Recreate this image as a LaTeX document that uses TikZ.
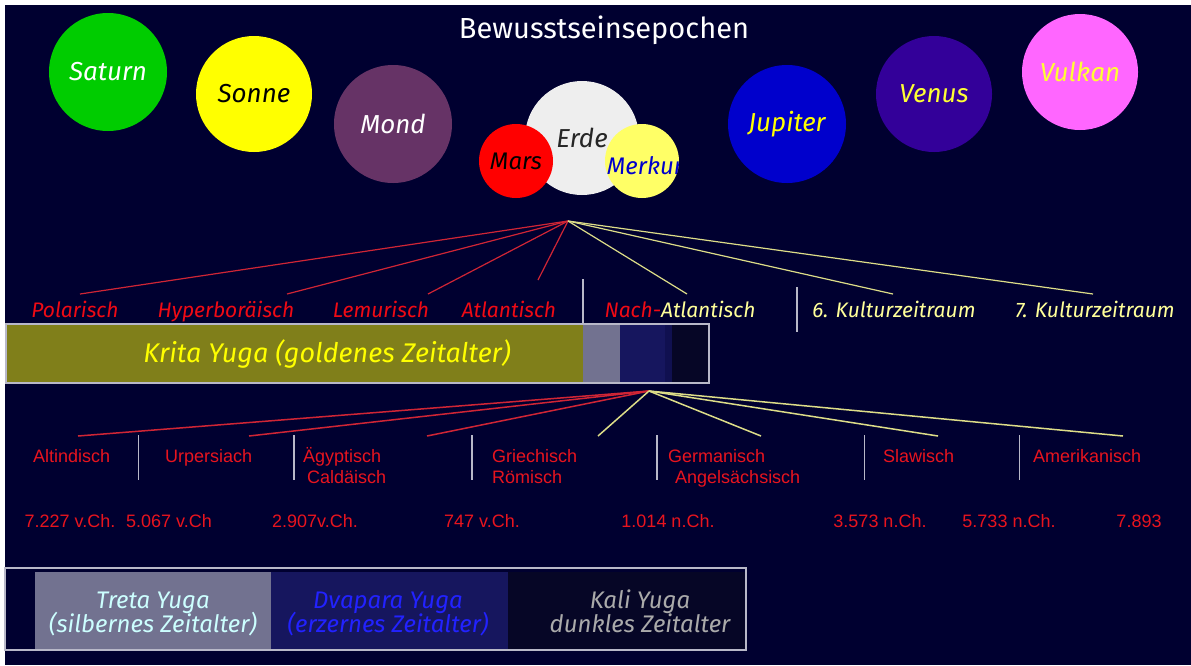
\documentclass[tikz,border=0pt]{standalone}
\usepackage{fontspec}
\setmainfont{Liberation Sans}
\newfontfamily\techfont{Fira Sans}
\usetikzlibrary{positioning,calc}
\newcommand{\tightlines}{\lineskiplimit=-100pt\relax}
\definecolor{NightBg}{HTML}{000030}
\definecolor{SaturnGreen}{HTML}{00CC00}
\definecolor{SonneYellow}{HTML}{FFFF00}
\definecolor{MondPurple}{HTML}{663366}
\definecolor{ErdeGrey}{HTML}{EEEEEE}
\definecolor{MarsRed}{HTML}{FF0000}
\definecolor{MerkurYellow}{HTML}{FFFF66}
\definecolor{JupiterBlue}{HTML}{0000CC}
\definecolor{VenusViolet}{HTML}{330099}
\definecolor{VulkanPink}{HTML}{FF66FF}
\definecolor{LabelYellow}{HTML}{FFFF33}
\definecolor{EpochRed}{HTML}{F00A14}
\definecolor{CultRed}{HTML}{E8141E}
\definecolor{PaleYellow}{HTML}{FFFF99}
\definecolor{FanRed}{HTML}{D02535}
\definecolor{FanYellow}{HTML}{DDDD88}
\definecolor{DividerGrey}{HTML}{B8B8C8}
\definecolor{KritaOlive}{HTML}{807F1A}
\definecolor{TretaGrey}{HTML}{727290}
\definecolor{DvaparaNavy}{HTML}{16165E}
\definecolor{DvaparaDeep}{HTML}{101050}
\definecolor{KaliDark}{HTML}{060626}
\definecolor{TretaText}{HTML}{CCFFFF}
\definecolor{DvaparaText}{HTML}{2222FF}
\definecolor{KaliText}{HTML}{AAAAAA}

\begin{document}
\begin{tikzpicture}[x=1pt, y=-1pt,
    planet/.style={circle, inner sep=0pt, font=\techfont\itshape\fontsize{26}{28}\selectfont},
    moon/.style={planet, minimum size=74pt, font=\techfont\itshape\fontsize{24}{26}\selectfont},
    epoch/.style={anchor=base, inner sep=0pt, text=EpochRed, font=\techfont\itshape\fontsize{21}{24}\selectfont},
    culture/.style={anchor=base west, inner sep=0pt, align=left, text=CultRed, font=\fontsize{18}{21}\selectfont},
    date/.style={anchor=base, inner sep=0pt, text=CultRed, font=\fontsize{18}{22}\selectfont},
    yuga/.style={anchor=base, inner sep=0pt, align=center, font=\techfont\itshape\fontsize{24}{24}\selectfont\tightlines},
    fanred/.style={draw=FanRed, line width=1.2pt},
    fanyellow/.style={draw=FanYellow, line width=1.2pt},
    divider/.style={draw=DividerGrey, line width=1.4pt}
]
\useasboundingbox (0,0) rectangle (1191,665);
\fill[white] (0,0) rectangle (1191,665);
\fill[NightBg] (5,5) rectangle (1191,665);

% title and planets
\node[text=white, font=\techfont\fontsize{29}{32}\selectfont] (title) at (604,30) {Bewusstseinsepochen};
\node[planet, fill=SaturnGreen, text=white, minimum size=118pt] (saturn) at (108,72) {Saturn};
\node[planet, fill=SonneYellow, text=black, minimum size=116pt] (sonne) at (254,94) {Sonne};
\node[planet, fill=MondPurple, text=white, minimum size=118pt] (mond) at (393,124) {Mond};
\node[planet, fill=ErdeGrey, text=black!85, minimum size=114pt] (erde) at (582,138) {Erde};
\node[moon, fill=MarsRed, text=black] (mars) at (516,161) {\raisebox{-3pt}{Mars}};
\node[moon, fill=MerkurYellow, path picture={
    \node[text=JupiterBlue, font=\techfont\itshape\fontsize{24}{26}\selectfont]
      at ([xshift=3pt,yshift=-5pt]path picture bounding box.center) {Merkur};}] (merkur) at (642,161) {};
\node[planet, fill=JupiterBlue, text=SonneYellow, minimum size=118pt] (jupiter) at (787,124) {Jupiter};
\node[planet, fill=VenusViolet, text=LabelYellow, minimum size=116pt] (venus) at (934,94) {Venus};
\node[planet, fill=VulkanPink, text=LabelYellow, minimum size=116pt] (vulkan) at (1080,72) {Vulkan};

% epochs
\coordinate (topfan) at (568,221);
\node[epoch] (polar) at (75,317) {Polarisch};
\node[epoch] (hyper) at (226,317) {Hyperboräisch};
\node[epoch] (lemur) at (381,317) {Lemurisch};
\node[epoch] (atlant) at (509,317) {Atlantisch};
\node[epoch, text=PaleYellow] (nach) at (680,317) {\textcolor{EpochRed}{Nach-}Atlantisch};
\node[epoch, text=PaleYellow] (kult6) at (894,317) {6. Kulturzeitraum};
\node[epoch, text=PaleYellow] (kult7) at (1095,317) {7. Kulturzeitraum};
\coordinate (polar-tip) at (80,294);
\coordinate (hyper-tip) at (287,294);
\coordinate (lemur-tip) at (428,294);
\coordinate (atlant-tip) at (538,280);
\coordinate (nach-tip) at (687,294);
\coordinate (kult6-tip) at (893,294);
\coordinate (kult7-tip) at (1093,294);
\draw[fanred] (topfan) -- (polar-tip);
\draw[fanred] (topfan) -- (hyper-tip);
\draw[fanred] (topfan) -- (lemur-tip);
\draw[fanred] (topfan) -- (atlant-tip);
\draw[fanyellow] (topfan) -- (nach-tip);
\draw[fanyellow] (topfan) -- (kult6-tip);
\draw[fanyellow] (topfan) -- (kult7-tip);
\draw[divider] (583,279) -- (583,324);
\draw[divider] (797,287) -- (797,332);

% krita yuga bar
\fill[KritaOlive] (6,324) rectangle (583,383);
\fill[TretaGrey] (583,324) rectangle (620,383);
\fill[DvaparaNavy] (620,324) rectangle (665,383);
\fill[DvaparaDeep] (665,324) rectangle (672,383);
\fill[KaliDark] (672,324) rectangle (709,383);
\draw[DividerGrey, line width=1.2pt] (6,324) rectangle (709,383);
\node[anchor=base, inner sep=0pt, text=SonneYellow, font=\techfont\itshape\fontsize{27}{29}\selectfont] (krita) at (327,362) {Krita Yuga (goldenes Zeitalter)};

% cultural epochs
\coordinate (lowfan) at (649,391);
\node[culture] (altind) at (33,462) {Altindisch};
\node[culture] (urpers) at (165,462) {Urpersiach};
\node[culture] (aegypt) at (303,483) {Ägyptisch\\\hspace*{4pt}Caldäisch};
\node[culture] (griech) at (492,483) {Griechisch\\Römisch};
\node[culture] (german) at (668,483) {Germanisch\\\hspace*{7pt}Angelsächsisch};
\node[culture] (slaw) at (883,462) {Slawisch};
\node[culture] (amerik) at (1033,462) {Amerikanisch};
\coordinate (altind-tip) at (78,436);
\coordinate (urpers-tip) at (249,436);
\coordinate (aegypt-tip) at (427,436);
\coordinate (griech-tip) at (598,436);
\coordinate (german-tip) at (761,436);
\coordinate (slaw-tip) at (938,436);
\coordinate (amerik-tip) at (1123,436);
\draw[fanred, line width=1.5pt] (lowfan) -- (altind-tip);
\draw[fanred, line width=1.5pt] (lowfan) -- (urpers-tip);
\draw[fanred, line width=1.5pt] (lowfan) -- (aegypt-tip);
\draw[fanyellow, line width=1.5pt] (lowfan) -- (griech-tip);
\draw[fanyellow, line width=1.5pt] (lowfan) -- (german-tip);
\draw[fanyellow, line width=1.5pt] (lowfan) -- (slaw-tip);
\draw[fanyellow, line width=1.5pt] (lowfan) -- (amerik-tip);
\draw[divider] (138.5,435) -- (138.5,480);
\draw[divider] (294,435) -- (294,480);
\draw[divider] (472,435) -- (472,480);
\draw[divider] (657,435) -- (657,480);
\draw[divider] (864.5,435) -- (864.5,480);
\draw[divider] (1019.5,435) -- (1019.5,480);

% dates
\node[date] (d1) at (70,527) {7.227 v.Ch.};
\node[date] (d2) at (169,527) {5.067 v.Ch};
\node[date] (d3) at (315,527) {2.907v.Ch.};
\node[date] (d4) at (482,527) {747 v.Ch.};
\node[date] (d5) at (668,527) {1.014 n.Ch.};
\node[date] (d6) at (880,527) {3.573 n.Ch.};
\node[date] (d7) at (1009,527) {5.733 n.Ch.};
\node[date] (d8) at (1139,527) {7.893};

% lower yuga bar
\fill[TretaGrey] (35,572) rectangle (271,649);
\fill[DvaparaNavy] (271,572) rectangle (508,649);
\fill[KaliDark] (508,572) rectangle (746,649);
\draw[DividerGrey, line width=1.2pt] (5,568) rectangle (746,650);
\node[yuga, text=TretaText] (treta) at (153,632) {Treta Yuga\\(silbernes Zeitalter)};
\node[yuga, text=DvaparaText] (dvapara) at (388,632) {Dvapara Yuga\\(erzernes Zeitalter)};
\node[yuga, text=KaliText] (kali) at (640,632) {Kali Yuga\\dunkles Zeitalter};
\end{tikzpicture}
\end{document}
